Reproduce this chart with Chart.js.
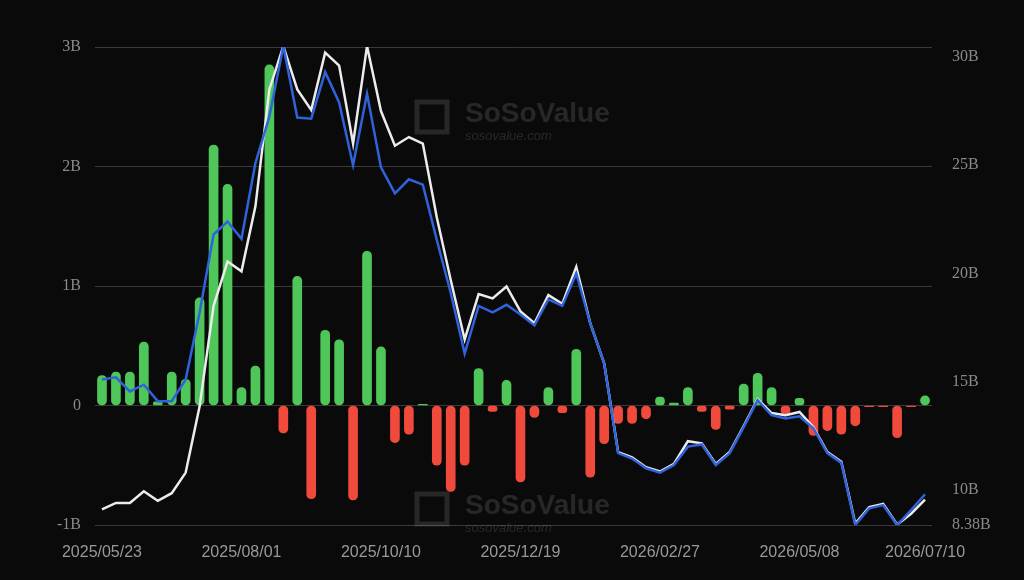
<!DOCTYPE html>
<html>
<head>
<meta charset="utf-8">
<script src="https://cdn.jsdelivr.net/npm/chart.js@4.4.1/dist/chart.umd.min.js"></script>
<style>
  html, body { margin: 0; padding: 0; background: #0a0a0a; }
  #wrap { width: 1024px; height: 580px; position: relative; }
</style>
</head>
<body>
<div id="wrap"><canvas id="chart"></canvas></div>
<script>
// weekly flows (B), left axis
var flows = [0.25, 0.28, 0.28, 0.53, 0.03, 0.28, 0.22, 0.9, 2.18, 1.85,
             0.15, 0.33, 2.85, -0.23, 1.08, -0.78, 0.63, 0.55, -0.79, 1.29,
             0.49, -0.31, -0.24, 0.01, -0.5, -0.72, -0.5, 0.31, -0.05, 0.21,
             -0.64, -0.1, 0.15, -0.06, 0.47, -0.6, -0.32, -0.15, -0.15, -0.11,
             0.07, 0.02, 0.15, -0.05, -0.2, -0.03, 0.18, 0.27, 0.15, -0.07,
             0.06, -0.25, -0.21, -0.24, -0.17, -0.01, -0.01, -0.27, -0.01, 0.08];
// right axis (B)
var whiteLine = [9.1, 9.4, 9.4, 9.94, 9.5, 9.85, 10.8, 13.86, 18.5, 20.55,
                 20.1, 23.1, 28.5, 30.5, 28.5, 27.55, 30.2, 29.6, 26.0, 30.5,
                 27.5, 25.9, 26.3, 26.0, 22.6, 19.7, 16.95, 19.05, 18.85, 19.4,
                 18.25, 17.7, 19.0, 18.6, 20.3, 17.7, 15.85, 11.75, 11.5, 11.05,
                 10.85, 11.2, 12.25, 12.15, 11.2, 11.75, 12.95, 14.2, 13.55, 13.45,
                 13.6, 12.9, 11.75, 11.3, 8.45, 9.2, 9.35, 8.4, 8.9, 9.55];
var blueLine = [15.1, 15.2, 14.55, 14.86, 14.1, 14.1, 15.1, 18.2, 21.8, 22.4,
                21.6, 25.1, 27.25, 30.5, 27.2, 27.15, 29.3, 27.9, 25.0, 28.3,
                24.9, 23.7, 24.35, 24.1, 21.55, 19.1, 16.3, 18.5, 18.2, 18.55,
                18.1, 17.6, 18.8, 18.5, 20.0, 17.7, 15.85, 11.7, 11.45, 11.0,
                10.8, 11.15, 12.0, 12.1, 11.15, 11.7, 12.9, 14.15, 13.45, 13.3,
                13.4, 12.85, 11.7, 11.25, 8.38, 9.15, 9.3, 8.38, 9.07, 9.8];
var leftTicks = [-1, 0, 1, 2, 3];
var rightTicks = [8.38, 10, 15, 20, 25, 30];
var shownIdx = [0, 10, 20, 30, 40, 50, 59];

var labels = [];
var d = new Date(Date.UTC(2025, 4, 23));
for (var i = 0; i < flows.length; i++) {
    var s = d.getUTCFullYear() + '/' + String(d.getUTCMonth() + 1).padStart(2, '0') + '/' + String(d.getUTCDate()).padStart(2, '0');
    labels.push(s);
    d.setUTCDate(d.getUTCDate() + 7);
}

var watermark = {
    id: 'watermark',
    beforeDatasetsDraw: function (chart) {
        var c = chart.ctx;
        c.save();
        c.fillStyle = 'rgba(255,255,255,0.12)';
        c.strokeStyle = 'rgba(255,255,255,0.12)';
        c.lineWidth = 5;
        [122, 514].forEach(function (y) {
            c.font = 'bold 28px "Liberation Sans"';
            c.fillText('SoSoValue', 465, y);
            c.font = 'italic 13px "Liberation Sans"';
            c.fillText('sosovalue.com', 465, y + 18);
            c.strokeRect(417, y - 20, 30, 30);
        });
        c.restore();
    }
};

new Chart(document.getElementById('chart').getContext('2d'), {
    data: {
        labels: labels,
        datasets: [{
            type: 'line',
            data: blueLine,
            yAxisID: 'y2',
            borderColor: '#2f62db',
            borderWidth: 2.5,
            pointRadius: 0,
            tension: 0,
            order: 1
        }, {
            type: 'line',
            data: whiteLine,
            yAxisID: 'y2',
            borderColor: '#ececec',
            borderWidth: 2.5,
            pointRadius: 0,
            tension: 0,
            order: 2
        }, {
            type: 'bar',
            data: flows,
            yAxisID: 'y',
            backgroundColor: flows.map(function (v) { return v >= 0 ? '#4fc659' : '#ef4a3b'; }),
            barThickness: 9,
            borderRadius: 5,
            borderSkipped: false,
            order: 3
        }]
    },
    options: {
        responsive: true,
        maintainAspectRatio: false,
        animation: false,
        layout: { padding: { top: 47, left: 0, right: 0, bottom: 0 } },
        plugins: { legend: { display: false }, tooltip: { enabled: false } },
        scales: {
            x: {
                offset: true,
                grid: { display: false },
                border: { display: false },
                afterFit: function (s) { s.height = 55; },
                ticks: {
                    autoSkip: false,
                    maxRotation: 0,
                    color: '#999999',
                    padding: 10,
                    font: { family: 'Liberation Sans', size: 16 },
                    callback: function (v, i) { return shownIdx.indexOf(i) >= 0 ? labels[i] : ''; }
                }
            },
            y: {
                position: 'left',
                min: -1,
                max: 3,
                afterFit: function (s) { s.width = 95; },
                afterBuildTicks: function (s) { s.ticks = leftTicks.map(function (v) { return { value: v }; }); },
                grid: { color: '#3a3a3a', lineWidth: 1, drawTicks: false },
                border: { display: false },
                ticks: {
                    color: '#8a8a8a',
                    padding: 14,
                    font: { family: 'Liberation Serif', size: 16 },
                    callback: function (v) { return v === 0 ? '0' : v + 'B'; }
                }
            },
            y2: {
                position: 'right',
                min: 8.38,
                max: 30.46,
                afterFit: function (s) { s.width = 92; },
                afterBuildTicks: function (s) { s.ticks = rightTicks.map(function (v) { return { value: v }; }); },
                grid: { display: false },
                border: { display: false },
                ticks: {
                    color: '#8a8a8a',
                    padding: 12,
                    font: { family: 'Liberation Serif', size: 16 },
                    callback: function (v) { return v + 'B'; }
                }
            }
        }
    },
    plugins: [watermark]
});
</script>
</body>
</html>
